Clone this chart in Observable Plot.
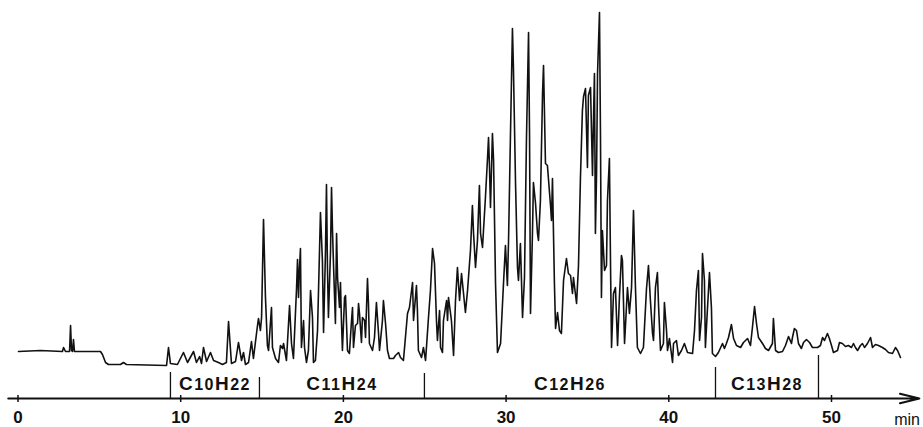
<!DOCTYPE html>
<html>
<head>
<meta charset="utf-8">
<script src="https://cdn.jsdelivr.net/npm/d3@7"></script>
<script src="https://cdn.jsdelivr.net/npm/@observablehq/plot@0.6"></script>
<style>
  html, body { margin: 0; padding: 0; background: #fff; }
  #chart svg { display: block; }
</style>
</head>
<body>
<div id="chart"></div>
<script>
// Chromatogram trace: [retention time (min), detector signal]
const trace = [[0.03,14],[1.38,15],[2.73,14],[2.80,18],[2.92,14],[3.17,14],[3.23,40],[3.29,15],[3.35,14],[3.41,26],[3.47,14],[5.07,14],[5.19,11],[5.38,3],[5.56,1],[6.30,1],[6.48,3],[6.67,1],[9.13,0],[9.25,18],[9.37,2],[9.80,1],[10.17,13],[10.42,3],[10.79,14],[10.97,3],[11.16,9],[11.28,2],[11.40,18],[11.59,4],[11.83,13],[12.02,5],[12.32,3],[12.57,1],[12.81,3],[12.94,44],[13.12,2],[13.37,4],[13.55,23],[13.74,5],[13.86,13],[13.98,1],[14.17,3],[14.35,24],[14.47,7],[14.72,40],[14.78,47],[14.90,35],[14.97,48],[15.09,146],[15.21,68],[15.33,20],[15.40,15],[15.58,58],[15.64,18],[15.83,7],[16.01,3],[16.13,20],[16.26,17],[16.32,22],[16.50,5],[16.69,60],[16.81,22],[16.93,7],[17.12,77],[17.18,106],[17.24,68],[17.30,97],[17.36,117],[17.42,18],[17.55,45],[17.61,18],[17.73,3],[17.85,15],[17.98,75],[18.10,48],[18.16,3],[18.28,5],[18.41,35],[18.59,153],[18.71,105],[18.78,33],[18.90,115],[18.96,181],[19.02,98],[19.08,48],[19.21,115],[19.27,178],[19.33,135],[19.39,102],[19.51,42],[19.58,132],[19.64,88],[19.76,58],[19.82,83],[19.88,45],[19.94,15],[20.07,68],[20.13,70],[20.25,15],[20.37,12],[20.50,45],[20.56,58],[20.62,18],[20.74,40],[20.87,42],[20.93,62],[20.99,52],[21.11,23],[21.17,48],[21.30,45],[21.36,28],[21.48,87],[21.54,62],[21.60,22],[21.79,15],[21.91,28],[22.03,63],[22.16,32],[22.22,15],[22.40,45],[22.46,65],[22.59,42],[22.71,15],[22.83,7],[23.08,7],[23.20,10],[23.39,13],[23.51,8],[23.69,5],[23.94,52],[24.06,58],[24.25,83],[24.31,45],[24.49,80],[24.55,55],[24.61,15],[24.80,8],[24.92,18],[25.05,5],[25.23,48],[25.35,75],[25.48,117],[25.60,102],[25.72,45],[25.78,25],[25.91,55],[25.97,18],[26.09,13],[26.15,45],[26.34,65],[26.40,45],[26.46,68],[26.64,45],[26.77,10],[26.89,65],[27.01,98],[27.14,65],[27.26,92],[27.50,53],[27.63,75],[27.81,115],[27.93,160],[28.00,132],[28.12,98],[28.24,125],[28.36,180],[28.43,132],[28.55,118],[28.61,135],[28.73,168],[28.86,208],[28.92,228],[28.98,198],[29.04,158],[29.16,232],[29.23,205],[29.35,82],[29.47,13],[29.66,22],[29.84,82],[29.96,120],[30.08,80],[30.15,125],[30.27,232],[30.39,337],[30.45,298],[30.58,182],[30.70,98],[30.76,85],[30.88,122],[31.01,48],[31.13,88],[31.25,225],[31.38,333],[31.44,232],[31.50,52],[31.62,132],[31.68,183],[31.81,162],[31.93,132],[31.99,125],[32.11,165],[32.24,272],[32.30,300],[32.42,202],[32.54,200],[32.73,160],[32.79,145],[32.85,187],[32.97,82],[33.04,37],[33.16,53],[33.28,35],[33.40,32],[33.53,85],[33.71,107],[33.83,92],[33.96,90],[34.08,72],[34.14,88],[34.33,62],[34.45,100],[34.57,188],[34.69,255],[34.76,269],[34.88,277],[35.00,198],[35.06,270],[35.19,278],[35.31,190],[35.37,245],[35.43,292],[35.49,132],[35.56,192],[35.62,292],[35.74,353],[35.80,232],[35.86,68],[35.92,135],[36.05,95],[36.17,100],[36.23,165],[36.35,207],[36.42,98],[36.48,18],[36.60,72],[36.72,78],[36.85,20],[36.97,70],[37.09,110],[37.15,105],[37.28,22],[37.46,78],[37.58,52],[37.71,78],[37.83,155],[37.95,78],[38.07,18],[38.26,12],[38.44,18],[38.63,77],[38.75,100],[38.87,65],[39.00,32],[39.06,25],[39.18,78],[39.30,93],[39.37,60],[39.49,15],[39.67,22],[39.73,63],[39.86,35],[39.92,15],[40.04,27],[40.23,3],[40.29,22],[40.47,25],[40.59,10],[40.78,15],[40.96,22],[41.15,13],[41.46,12],[41.58,35],[41.70,75],[41.82,95],[41.89,25],[42.01,48],[42.07,112],[42.19,85],[42.25,18],[42.38,58],[42.50,93],[42.62,58],[42.68,12],[42.87,9],[43.05,13],[43.30,22],[43.42,17],[43.54,22],[43.67,28],[43.85,41],[43.98,27],[44.16,20],[44.41,18],[44.59,23],[44.84,27],[45.02,20],[45.14,38],[45.27,59],[45.39,42],[45.51,28],[45.76,22],[45.94,17],[46.13,15],[46.37,22],[46.43,47],[46.56,15],[46.74,13],[46.99,14],[47.17,20],[47.36,29],[47.54,22],[47.60,28],[47.72,37],[47.85,35],[47.97,22],[48.15,17],[48.28,23],[48.46,26],[48.65,23],[48.83,18],[49.14,18],[49.32,20],[49.45,28],[49.57,25],[49.75,32],[49.87,27],[50.00,20],[50.12,13],[50.37,15],[50.49,23],[50.67,22],[50.86,19],[51.04,20],[51.23,18],[51.35,22],[51.47,18],[51.60,15],[51.78,20],[51.90,22],[52.03,18],[52.21,22],[52.40,28],[52.52,18],[52.70,21],[52.89,20],[53.13,18],[53.32,16],[53.50,13],[53.75,12],[53.93,18],[54.06,15],[54.24,8]];

// Retention-time windows for the alkane groups
const boundaryTimes = [9.37, 14.84, 24.98, 42.87, 49.20];
const boundaryTops = [-7, -12, -8, -2, 10];
const formulas = ["C10H22", "C11H24", "C12H26", "C13H28"];

// Time axis
const tickValues = [0, 10, 20, 30, 40, 50];
const axisSpan = [[-0.6, 55.4]];
const unitLabel = ["min"];

const axisLevel = -33;

const boundaries = boundaryTimes.map((t, i) => ({t, top: boundaryTops[i]}));
const groups = formulas.map((f, i) => ({f, t: (boundaryTimes[i] + boundaryTimes[i + 1]) / 2}));

const chart = Plot.plot({
  width: 923,
  height: 427,
  margin: 0,
  style: {fontFamily: "'Liberation Sans', Arial, sans-serif", background: "#fff", color: "#111"},
  x: {domain: [0, 50], range: [17.5, 831], axis: null},
  y: {domain: [0, 353], range: [365, 12], axis: null},
  marks: [
    Plot.line(trace, {x: d => d[0], y: d => d[1], stroke: "#111", strokeWidth: 1.6, strokeLinejoin: "round"}),
    Plot.ruleX(boundaries, {x: "t", y1: axisLevel, y2: "top", stroke: "#111", strokeWidth: 1.3}),
    Plot.arrow(axisSpan, {x1: d => d[0], x2: d => d[1], y1: axisLevel, y2: axisLevel, stroke: "#111", strokeWidth: 2, headLength: 15, headAngle: 28}),
    Plot.ruleX(tickValues, {x: d => d, y1: axisLevel + 3, y2: axisLevel - 4, stroke: "#111", strokeWidth: 1.5}),
    Plot.text(tickValues, {x: d => d, y: axisLevel - 19.5, text: d => String(d), fontSize: 17, fontWeight: "bold", fill: "#111"}),
    Plot.text(unitLabel, {x: 53.85, y: axisLevel - 21, text: d => d, textAnchor: "start", fontSize: 16, fill: "#111"}),
    Plot.text(groups, {x: "t", y: -18, text: "f", fontSize: 19, fontWeight: "bold", fill: "#111"})
  ]
});

// Render digits in the formulas as smaller characters
d3.select(chart).selectAll("text").each(function () {
  const s = this.textContent;
  if (/^C\d+H\d+$/.test(s)) {
    const parts = s.match(/[A-Z]+|\d+/g);
    this.textContent = "";
    this.setAttribute("letter-spacing", "1.5");
    for (const p of parts) {
      const ts = document.createElementNS("http://www.w3.org/2000/svg", "tspan");
      ts.textContent = p;
      if (/\d/.test(p)) ts.setAttribute("font-size", "16");
      this.appendChild(ts);
    }
  }
});

document.getElementById("chart").appendChild(chart);
</script>
</body>
</html>
